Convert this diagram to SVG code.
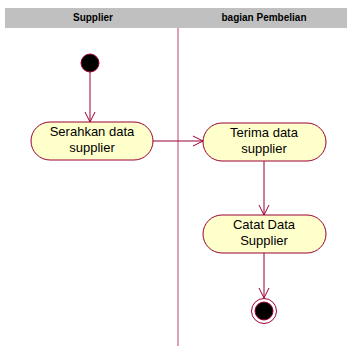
<svg xmlns="http://www.w3.org/2000/svg" width="347" height="350" viewBox="0 0 347 350">
  <style>
    .lane { font-family: "Liberation Sans", Arial, sans-serif; font-size: 10px; font-weight: bold; fill: #000; text-anchor: middle; }
    .act rect { fill: #FFFFCC; stroke: #990033; stroke-width: 1; }
    .act text { font-family: "Liberation Sans", Arial, sans-serif; font-size: 13px; fill: #000; text-anchor: middle; }
    .flow { stroke: #990033; stroke-width: 1; fill: none; marker-end: url(#open); }
  </style>
  <defs>
    <marker id="open" viewBox="0 0 12 12" refX="11" refY="6" markerWidth="12" markerHeight="12" markerUnits="userSpaceOnUse" orient="auto">
      <path d="M1,1 L11,6 L1,11" fill="none" stroke="#990033" stroke-width="1"/>
    </marker>
  </defs>
  <rect width="347" height="350" fill="#fff"/>

  <!-- swimlane header -->
  <g id="lanes">
    <rect x="5" y="8" width="342" height="20" fill="#C0C0C0"/>
    <text class="lane" x="93" y="21">Supplier</text>
    <text class="lane" x="264" y="21">bagian Pembelian</text>
    <line x1="178" y1="28" x2="178" y2="346" stroke="#C0406C" stroke-width="1"/>
  </g>

  <g id="start">
    <circle cx="90" cy="63" r="9" fill="#000" stroke="#990033" stroke-width="1"/>
  </g>

  <g id="serahkan" class="act">
    <rect x="31" y="122" width="122" height="38" rx="19" ry="19"/>
    <text x="92" y="136">Serahkan data</text>
    <text x="92" y="152">supplier</text>
  </g>

  <g id="terima" class="act">
    <rect x="203" y="123" width="123" height="38" rx="19" ry="19"/>
    <text x="264" y="137">Terima data</text>
    <text x="264" y="153">supplier</text>
  </g>

  <g id="catat" class="act">
    <rect x="203" y="215" width="123" height="38" rx="19" ry="19"/>
    <text x="264" y="229">Catat Data</text>
    <text x="264" y="245">Supplier</text>
  </g>

  <g id="end">
    <circle cx="264" cy="311" r="12.5" fill="#fff" stroke="#990033" stroke-width="1"/>
    <circle cx="264" cy="311" r="9" fill="#000" stroke="#990033" stroke-width="1"/>
  </g>

  <g id="connectors">
    <line class="flow" x1="90" y1="72" x2="90" y2="122"/>
    <line class="flow" x1="153" y1="141" x2="203" y2="141"/>
    <line class="flow" x1="264" y1="161" x2="264" y2="215"/>
    <line class="flow" x1="264" y1="253" x2="264" y2="298"/>
  </g>
</svg>
